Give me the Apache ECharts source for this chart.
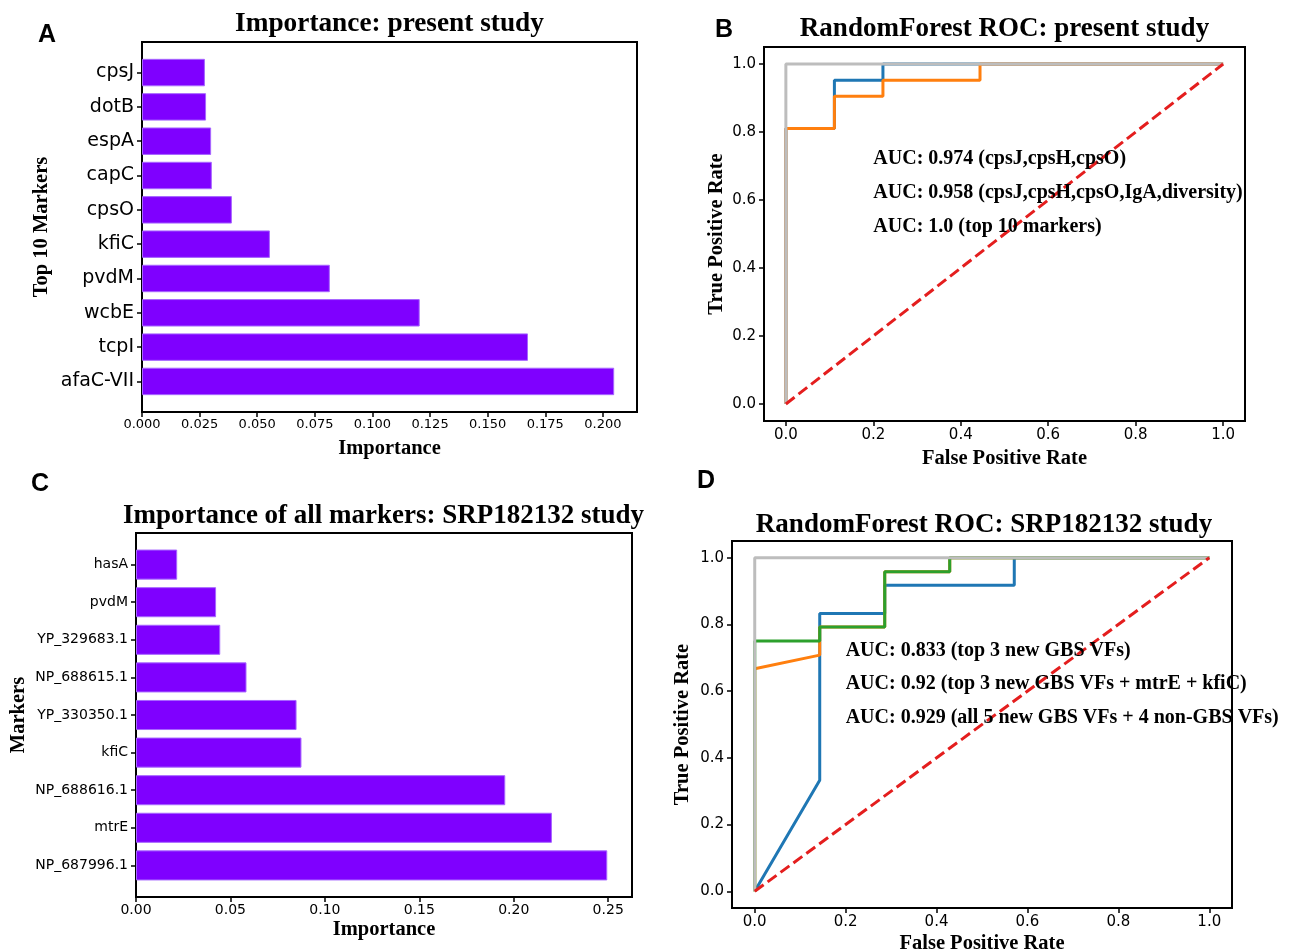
<!DOCTYPE html>
<html>
<head>
<meta charset="utf-8">
<script src="https://cdn.jsdelivr.net/npm/echarts@6/dist/echarts.min.js"></script>
<style>
  html, body { margin: 0; padding: 0; background: #fff; }
  #chart { width: 1298px; height: 951px; }
</style>
</head>
<body>
<div id="chart"></div>
<script>
  // panel A: importance, present study (bottom -> top)
  const markersA = ['afaC-VII', 'tcpI', 'wcbE', 'pvdM', 'kfiC', 'cpsO', 'capC', 'espA', 'dotB', 'cpsJ']
  const importanceA = [0.2049, 0.1675, 0.1205, 0.0815, 0.0555, 0.0390, 0.0303, 0.0300, 0.0278, 0.0273]
  const ticksA = [0, 0.025, 0.05, 0.075, 0.1, 0.125, 0.15, 0.175, 0.2]

  // panel C: importance, SRP182132 study (bottom -> top)
  const markersC = ['NP_687996.1', 'mtrE', 'NP_688616.1', 'kfiC', 'YP_330350.1', 'NP_688615.1', 'YP_329683.1', 'pvdM', 'hasA']
  const importanceC = [0.2495, 0.2202, 0.1955, 0.0876, 0.0850, 0.0585, 0.0446, 0.0424, 0.0218]
  const ticksC = [0, 0.05, 0.1, 0.15, 0.2, 0.25]

  const rocTicks = [0, 0.2, 0.4, 0.6, 0.8, 1.0]

  // panel B: ROC curves
  const fprB1 = [0, 0, 0.111, 0.111, 0.222, 0.222, 1]
  const tprB1 = [0, 0.810, 0.810, 0.952, 0.952, 1, 1]
  const fprB2 = [0, 0, 0.111, 0.111, 0.222, 0.222, 0.444, 0.444, 1]
  const tprB2 = [0, 0.810, 0.810, 0.905, 0.905, 0.952, 0.952, 1, 1]
  const fprB3 = [0, 0, 1]
  const tprB3 = [0, 1, 1]
  const aucB = ['AUC: 0.974 (cpsJ,cpsH,cpsO)', 'AUC: 0.958 (cpsJ,cpsH,cpsO,IgA,diversity)', 'AUC: 1.0 (top 10 markers)']

  // panel D: ROC curves
  const fprD1 = [0, 0.143, 0.143, 0.286, 0.286, 0.571, 0.571, 1]
  const tprD1 = [0, 0.333, 0.833, 0.833, 0.917, 0.917, 1, 1]
  const fprD2 = [0, 0, 0.143, 0.143, 0.286, 0.286, 0.429, 0.429, 1]
  const tprD2 = [0, 0.667, 0.708, 0.792, 0.792, 0.958, 0.958, 1, 1]
  const fprD3 = [0, 0, 0.143, 0.143, 0.286, 0.286, 0.429, 0.429, 1]
  const tprD3 = [0, 0.750, 0.750, 0.792, 0.792, 0.958, 0.958, 1, 1]
  const fprD4 = [0, 0, 1]
  const tprD4 = [0, 1, 1]
  const aucD = ['AUC: 0.833 (top 3 new GBS VFs)', 'AUC: 0.92 (top 3 new GBS VFs + mtrE + kfiC)', 'AUC: 0.929 (all 5 new GBS VFs + 4 non-GBS VFs)']

  const aucTextX = 0.2
  const aucTextY = [0.7, 0.6, 0.5]
  const diagonal = [0, 1]

  const serif = 'Liberation Serif'
  const sans = 'DejaVu Sans'

  function pairs (xs, ys) {
    return xs.map((x, i) => [x, ys[i]])
  }

  function frameGrid (left, top, width, height) {
    return {left, top, width, height, show: true, borderColor: '#000', borderWidth: 2,
      backgroundColor: 'transparent', outerBoundsMode: 'none'}
  }

  const tick = {show: true, length: 5, lineStyle: {color: '#000', width: 1.5}}
  const nameStyle = {fontFamily: serif, fontWeight: 'bold', fontSize: 20.5, color: '#000'}

  // value axis drawn on a frame grid, ticks/labels only at the given values
  function valueAxis (gridIndex, min, max, ticks, digits, fontSize, margin, name, nameGap) {
    return {
      gridIndex, type: 'value', min, max,
      axisLine: {show: false, onZero: false}, splitLine: {show: false},
      axisTick: Object.assign({customValues: ticks}, tick),
      axisLabel: {customValues: ticks, margin, color: '#000', fontFamily: sans, fontSize,
        formatter: v => v.toFixed(digits)},
      name, nameLocation: 'middle', nameGap, nameMoveOverlap: false, nameTextStyle: nameStyle
    }
  }

  function hiddenAxis (gridIndex, max) {
    return {gridIndex, type: 'value', show: false, min: 0, max, axisLine: {onZero: false}}
  }

  function catYAxis (gridIndex, cats, fontSize, name, nameGap) {
    return {
      gridIndex, type: 'category', data: cats,
      axisLine: {show: false, onZero: false},
      axisTick: Object.assign({alignWithLabel: true}, tick),
      axisLabel: {margin: 8, color: '#000', fontFamily: sans, fontSize},
      name, nameLocation: 'middle', nameGap, nameMoveOverlap: false, nameTextStyle: nameStyle
    }
  }

  function rocLine (axis, xs, ys, color, z) {
    return {
      type: 'line', xAxisIndex: axis, yAxisIndex: axis, data: pairs(xs, ys),
      showSymbol: false, symbol: 'none', clip: false, silent: true, z,
      lineStyle: {color, width: 3}
    }
  }

  function diagLine (axis) {
    return {
      type: 'line', xAxisIndex: axis, yAxisIndex: axis, data: pairs(diagonal, diagonal),
      showSymbol: false, symbol: 'none', clip: false, silent: true, z: 8,
      lineStyle: {color: '#e41e1e', width: 3, type: [11, 5]}
    }
  }

  function aucLabels (axis, texts) {
    return {
      type: 'scatter', xAxisIndex: axis, yAxisIndex: axis, symbolSize: 0, silent: true, z: 9,
      itemStyle: {opacity: 1},
      data: texts.map((t, i) => ({value: [aucTextX, aucTextY[i]], name: t})),
      label: {
        show: true, position: 'right', distance: 0, offset: [0, -7], opacity: 1,
        formatter: p => p.name, color: '#000', fontFamily: serif, fontWeight: 'bold', fontSize: 20
      }
    }
  }

  function bars (axis, values) {
    return {
      type: 'bar', xAxisIndex: axis, yAxisIndex: axis, data: values, barCategoryGap: '20%',
      silent: true, itemStyle: {color: '#7f00ff', borderColor: '#a766ff', borderWidth: 1}
    }
  }

  function heading (text, x, y, size, family) {
    return {
      type: 'text', x, y, silent: true,
      style: {text, fill: '#000', fontFamily: family, fontWeight: 'bold', fontSize: size, align: 'center', verticalAlign: 'middle'}
    }
  }

  const maxA = 0.2148
  const maxC = 0.2626

  const chart = echarts.init(document.getElementById('chart'))
  chart.setOption({
    animation: false,
    backgroundColor: '#fff',
    grid: [
      frameGrid(142, 42, 495, 370),
      {left: 142, top: 55.4, width: 495, height: 343.2, outerBoundsMode: 'none'},
      frameGrid(764, 47, 481, 374),
      frameGrid(136, 533, 496, 364),
      {left: 136, top: 545.8, width: 496, height: 338.4, outerBoundsMode: 'none'},
      frameGrid(732, 541, 500, 367)
    ],
    xAxis: [
      valueAxis(0, 0, maxA, ticksA, 3, 13, 6, 'Importance', 26),
      hiddenAxis(1, maxA),
      valueAxis(2, -0.05, 1.05, rocTicks, 1, 15, 7, 'False Positive Rate', 27),
      valueAxis(3, 0, maxC, ticksC, 2, 14, 6, 'Importance', 22),
      hiddenAxis(4, maxC),
      valueAxis(5, -0.05, 1.05, rocTicks, 1, 15, 7, 'False Positive Rate', 25)
    ],
    yAxis: [
      hiddenAxis(0, 1),
      catYAxis(1, markersA, 19, 'Top 10 Markers', 90),
      valueAxis(2, -0.05, 1.05, rocTicks, 1, 15, 8, 'True Positive Rate', 37),
      hiddenAxis(3, 1),
      catYAxis(4, markersC, 14, 'Markers', 107),
      valueAxis(5, -0.05, 1.05, rocTicks, 1, 15, 8, 'True Positive Rate', 39)
    ],
    graphic: [
      heading('A', 47, 35, 25, 'Liberation Sans'),
      heading('B', 724, 30, 25, 'Liberation Sans'),
      heading('C', 40, 484, 25, 'Liberation Sans'),
      heading('D', 706, 481, 25, 'Liberation Sans'),
      heading('Importance: present study', 389.5, 24, 27.3, serif),
      heading('RandomForest ROC: present study', 1004.5, 29, 27, serif),
      heading('Importance of all markers: SRP182132 study', 383.5, 516, 27, serif),
      heading('RandomForest ROC: SRP182132 study', 984, 525, 27, serif)
    ],
    series: [
      bars(1, importanceA),
      rocLine(2, fprB1, tprB1, '#1f77b4', 3),
      rocLine(2, fprB2, tprB2, '#ff7f0e', 4),
      rocLine(2, fprB3, tprB3, '#bdbdbd', 5),
      diagLine(2),
      aucLabels(2, aucB),
      bars(4, importanceC),
      rocLine(5, fprD1, tprD1, '#1f77b4', 3),
      rocLine(5, fprD2, tprD2, '#ff7f0e', 4),
      rocLine(5, fprD3, tprD3, '#2ca02c', 5),
      rocLine(5, fprD4, tprD4, '#bdbdbd', 6),
      diagLine(5),
      aucLabels(5, aucD)
    ]
  })
</script>
</body>
</html>
